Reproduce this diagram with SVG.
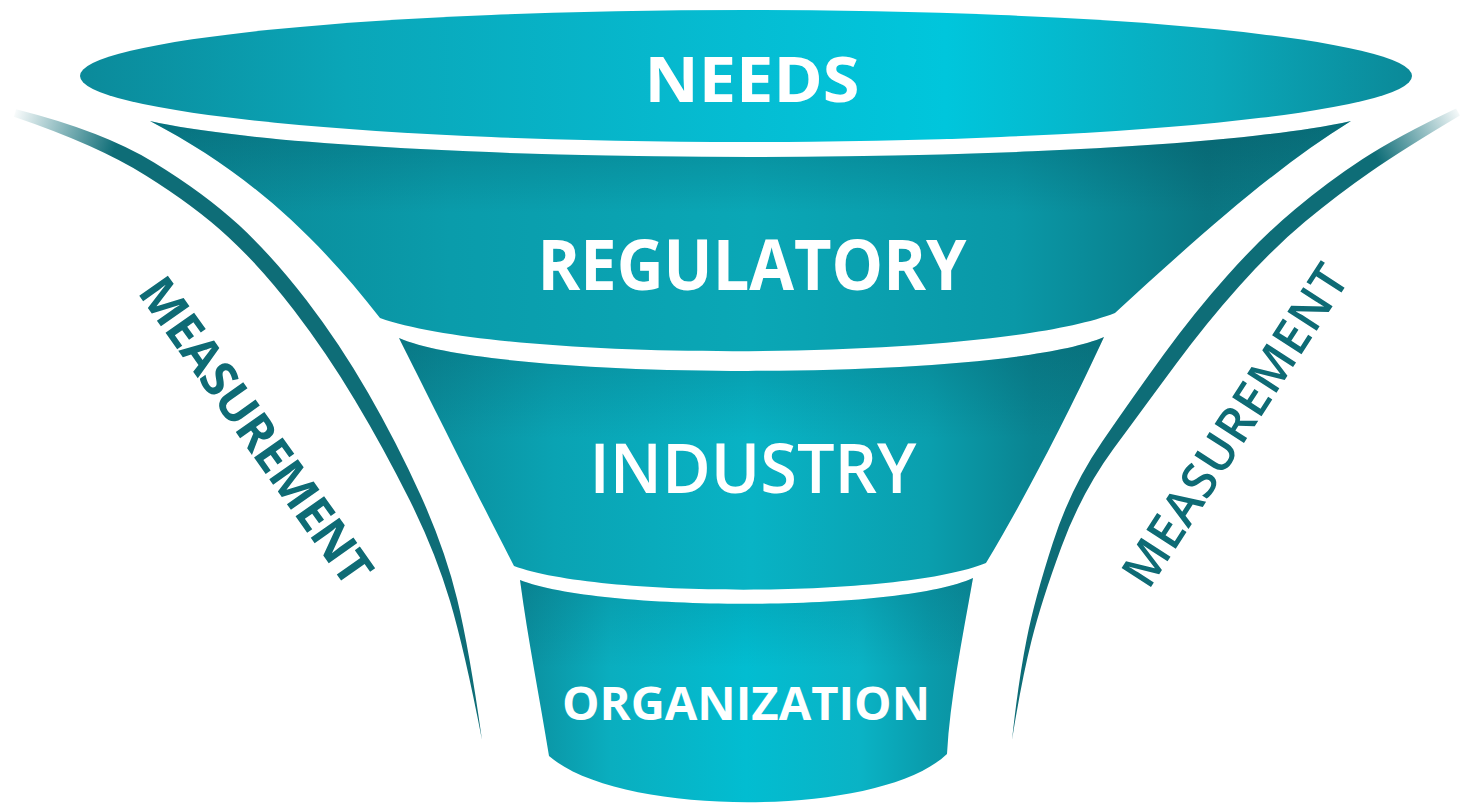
<svg xmlns="http://www.w3.org/2000/svg" width="1472" height="809" viewBox="0 0 1472 809">
  <defs>
    <linearGradient id="needsG" x1="0" y1="0" x2="1" y2="0">
      <stop offset="0" stop-color="#0b8a9a"/>
      <stop offset="0.2" stop-color="#0aa6b8"/>
      <stop offset="0.5" stop-color="#05bdd3"/>
      <stop offset="0.65" stop-color="#00c6dc"/>
      <stop offset="0.85" stop-color="#0aa9bb"/>
      <stop offset="1" stop-color="#0b8998"/>
    </linearGradient>
    <linearGradient id="regG" x1="0" y1="0" x2="1" y2="0">
      <stop offset="0" stop-color="#0b8593"/>
      <stop offset="0.25" stop-color="#0a9cab"/>
      <stop offset="0.5" stop-color="#0aa7b6"/>
      <stop offset="0.72" stop-color="#0a98a7"/>
      <stop offset="0.88" stop-color="#0a7682"/>
      <stop offset="1" stop-color="#0b808c"/>
    </linearGradient>
    <linearGradient id="indG" x1="0" y1="0" x2="1" y2="0">
      <stop offset="0" stop-color="#0b8896"/>
      <stop offset="0.22" stop-color="#0aa3b3"/>
      <stop offset="0.5" stop-color="#08b3c5"/>
      <stop offset="0.75" stop-color="#0a9fae"/>
      <stop offset="0.9" stop-color="#0a8491"/>
      <stop offset="1" stop-color="#0b7f8b"/>
    </linearGradient>
    <linearGradient id="orgG" x1="0" y1="0" x2="1" y2="0">
      <stop offset="0" stop-color="#0b8f9e"/>
      <stop offset="0.2" stop-color="#0aaebf"/>
      <stop offset="0.5" stop-color="#02bdd1"/>
      <stop offset="0.75" stop-color="#0ab3c5"/>
      <stop offset="0.9" stop-color="#0a9cac"/>
      <stop offset="1" stop-color="#0b909f"/>
    </linearGradient>
    <linearGradient id="shadeV" x1="0" y1="0" x2="0" y2="1">
      <stop offset="0" stop-color="#003c46" stop-opacity="0.28"/>
      <stop offset="0.4" stop-color="#003c46" stop-opacity="0"/>
      <stop offset="1" stop-color="#003c46" stop-opacity="0"/>
    </linearGradient>
    <linearGradient id="arcL" gradientUnits="userSpaceOnUse" x1="12" y1="112" x2="115" y2="148">
      <stop offset="0" stop-color="#0e6d77" stop-opacity="0"/>
      <stop offset="1" stop-color="#0e6d77"/>
    </linearGradient>
    <linearGradient id="arcR" gradientUnits="userSpaceOnUse" x1="1462" y1="110" x2="1375" y2="155">
      <stop offset="0" stop-color="#0e6d77" stop-opacity="0"/>
      <stop offset="1" stop-color="#0e6d77"/>
    </linearGradient>
    <style>
      .lbl { font-family: "Open Sans", "Noto Sans", "Liberation Sans", sans-serif; fill: #ffffff; text-anchor: middle; }
      .meas { font-family: "Open Sans", "Noto Sans", "Liberation Sans", sans-serif; fill: #0e6b75; text-anchor: middle; font-size: 49px; }
    </style>
  </defs>

  <rect x="0" y="0" width="1472" height="809" fill="#ffffff"/>

  <g id="organization">
    <path d="M520,580 C600,612 900,612 973,578 C962,640 950,700 947,754 C880,818 620,818 549,756 C540,700 528,640 520,580 Z" fill="url(#orgG)"/>
    <path d="M520,580 C600,612 900,612 973,578 C962,640 950,700 947,754 C880,818 620,818 549,756 C540,700 528,640 520,580 Z" fill="url(#shadeV)" opacity="0.6"/>
    <text class="lbl" x="746" y="720" font-size="47" font-weight="700" textLength="368" lengthAdjust="spacingAndGlyphs">ORGANIZATION</text>
  </g>

  <g id="industry">
    <path d="M399,338 C500,382 1000,382 1104,337 C1075,400 1030,490 986,563 C900,598 600,598 514,566 C480,500 430,400 399,338 Z" fill="url(#indG)"/>
    <path d="M399,338 C500,382 1000,382 1104,337 C1075,400 1030,490 986,563 C900,598 600,598 514,566 C480,500 430,400 399,338 Z" fill="url(#shadeV)" opacity="0.8"/>
    <text class="lbl" x="753" y="493" font-size="69" font-weight="600" textLength="327" lengthAdjust="spacingAndGlyphs">INDUSTRY</text>
  </g>

  <g id="regulatory">
    <path d="M150,121 A640,55 0 0 0 1351,121 C1275,168 1200,235 1115,313 C990,362 510,364 380,318 C310,228 240,168 150,121 Z" fill="url(#regG)"/>
    <path d="M150,121 A640,55 0 0 0 1351,121 C1275,168 1200,235 1115,313 C990,362 510,364 380,318 C310,228 240,168 150,121 Z" fill="url(#shadeV)"/>
    <text class="lbl" x="752" y="290" font-size="69" font-weight="700" textLength="429" lengthAdjust="spacingAndGlyphs">REGULATORY</text>
  </g>

  <g id="needs">
    <ellipse cx="746" cy="76" rx="666" ry="66" fill="url(#needsG)"/>
    <text class="lbl" x="752" y="102" font-size="63" font-weight="700" textLength="215" lengthAdjust="spacingAndGlyphs">NEEDS</text>
  </g>

  <g id="measurement-left">
    <path d="M13.9,116.8 Q96.9,144.9 146.1,175.7 Q195.2,206.4 228.2,236.9 Q261.1,267.4 293.8,310 Q326.4,352.5 355.1,400.4 Q383.8,448.3 409.6,500 Q435.3,551.7 450,601.1 Q464.6,650.5 482,740 Q469.4,649.5 457.1,598.9 Q444.7,548.3 420.5,495 Q396.2,441.7 367.9,392.6 Q339.6,343.5 306.3,300.1 Q272.9,256.6 238.9,225.1 Q204.9,193.6 154,162.4 Q103.1,131.2 16.1,109.2 Z" fill="url(#arcL)"/>
    <text class="meas" font-weight="700" transform="translate(255,431.5) rotate(54.7)" x="0" y="16" textLength="364">MEASUREMENT</text>
  </g>

  <g id="measurement-right">
    <path d="M1456.1,108.5 Q1396.4,137 1362.3,159.3 Q1328.2,181.6 1294.8,209.5 Q1261.4,237.3 1227.6,275.2 Q1193.8,313 1163.9,354.3 Q1133.9,395.6 1102.3,441.5 Q1070.7,487.3 1052.7,543.2 Q1034.6,599 1026.6,639.4 Q1018.5,679.7 1012,740 Q1021.5,680.3 1031.5,640.7 Q1041.4,601 1061.4,546.9 Q1081.3,492.8 1113.7,448.6 Q1146.1,404.4 1176.2,363.7 Q1206.2,323 1239.4,285.9 Q1272.6,248.8 1305.2,221.6 Q1337.8,194.4 1370.7,171.7 Q1403.6,149 1459.9,115.5 Z" fill="url(#arcR)"/>
    <text class="meas" font-weight="600" transform="translate(1236,426) rotate(-57.1)" x="0" y="16" textLength="372">MEASUREMENT</text>
  </g>

  <g id="connectors"/>
</svg>
